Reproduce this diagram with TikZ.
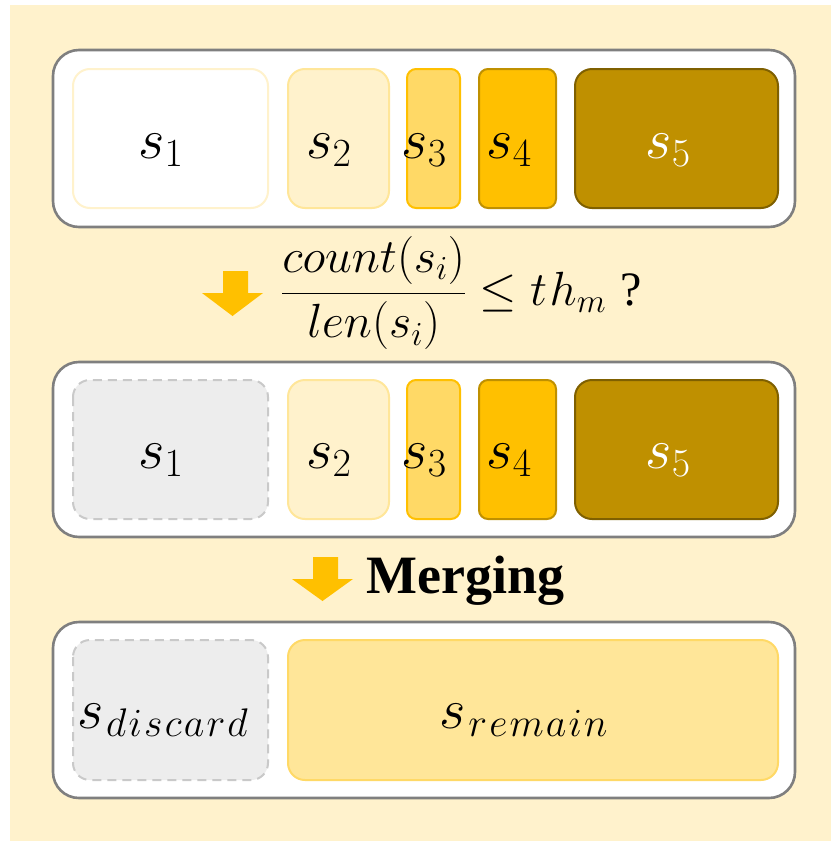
\RequirePackage{fix-cm}
\documentclass[tikz,border=0pt]{standalone}
\usepackage[no-math]{fontspec}
\newfontfamily\mergefont{Liberation Serif}
\definecolor{bgY}{HTML}{FFF2CC}
\definecolor{frameG}{HTML}{7F7F7F}
\definecolor{y1}{HTML}{FFF2CC}
\definecolor{y2}{HTML}{FFE699}
\definecolor{y3}{HTML}{FFD966}
\definecolor{y4}{HTML}{FFC000}
\definecolor{y5}{HTML}{BF9000}
\definecolor{y6}{HTML}{7F6000}
\definecolor{gfill}{HTML}{EDEDED}
\definecolor{gdraw}{HTML}{C9C9C9}
\begin{document}
\begin{tikzpicture}[x=1pt,y=-1pt,
  outerbox/.style={draw=frameG,fill=white,line width=2.6pt,rounded corners=26pt},
  seg/.style={line width=2pt,rounded corners=17pt},
  segnarrow/.style={line width=2pt,rounded corners=9pt},
  discard/.style={seg,draw=gdraw,fill=gfill,dash pattern=on 9pt off 6pt},
  lbl/.style={anchor=base,inner sep=0pt,font=\fontsize{57}{60}\selectfont},
  yarrow/.style={fill=y4,draw=none}]
\useasboundingbox (0,0) rectangle (831,841);
\fill[bgY] (10,5) rectangle (831,841);

% ---------- row 1 ----------
\draw[outerbox] (53,50) rectangle (795,227);
\draw[seg,draw=y1,fill=white] (73,69) rectangle (268,208);
\node[lbl] (a1) at (161,158) {$s_1$};
\draw[seg,draw=y2,fill=y1] (288,69) rectangle (389,208);
\node[lbl] (a2) at (329,158) {$s_2$};
\draw[segnarrow,draw=y4,fill=y3] (407,69) rectangle (460,208);
\node[lbl] (a3) at (424,158) {$s_3$};
\draw[segnarrow,draw=y5,fill=y4] (479,69) rectangle (556,208);
\node[lbl] (a4) at (509,158) {$s_4$};
\draw[seg,draw=y6,fill=y5] (575,69) rectangle (778,208);
\node[lbl,text=white] (a5) at (668,158) {$s_5$};

% ---------- arrow 1 + condition ----------
\fill[yarrow] (223,271) -- (248,271) -- (248,293) -- (263,293) -- (232.5,316) -- (202,293) -- (223,293) -- cycle;
\node[anchor=base west,inner sep=0pt,font=\fontsize{48}{52}\selectfont] (cond) at (281,305)
  {$\displaystyle\frac{count(s_i)}{len(s_i)}\le t\mkern1mu h_m$\hspace{14pt}\mergefont ?};

% ---------- row 2 ----------
\draw[outerbox] (53,362) rectangle (795,537);
\draw[discard] (73,380) rectangle (268,519);
\node[lbl] (b1) at (161,468) {$s_1$};
\draw[seg,draw=y2,fill=y1] (288,380) rectangle (389,519);
\node[lbl] (b2) at (329,468) {$s_2$};
\draw[segnarrow,draw=y4,fill=y3] (407,380) rectangle (460,519);
\node[lbl] (b3) at (424,468) {$s_3$};
\draw[segnarrow,draw=y5,fill=y4] (479,380) rectangle (556,519);
\node[lbl] (b4) at (509,468) {$s_4$};
\draw[seg,draw=y6,fill=y5] (575,380) rectangle (778,519);
\node[lbl,text=white] (b5) at (668,468) {$s_5$};

% ---------- arrow 2 + Merging ----------
\fill[yarrow] (313,557) -- (338,557) -- (338,579) -- (353,579) -- (322.5,601) -- (292,579) -- (313,579) -- cycle;
\node[anchor=base west,inner sep=0pt,font=\mergefont\bfseries\fontsize{54}{58}\selectfont] (merge) at (366,593) {Merging};

% ---------- row 3 ----------
\draw[outerbox] (53,622) rectangle (795,798);
\draw[discard] (73,640) rectangle (268,780);
\node[lbl] (c1) at (163,728) {$s_{\mkern1mu d\mkern1mu i\mkern1mu s\mkern1mu c\mkern1mu a\mkern1mu r\mkern1mu d}$};
\draw[seg,draw=y3,fill=y2] (288,640) rectangle (778,780);
\node[lbl] (c2) at (524,728) {$s_{\mkern1mu r\mkern1mu e\mkern1mu m\mkern1mu a\mkern1mu i\mkern1mu n}$};
\end{tikzpicture}
\end{document}
